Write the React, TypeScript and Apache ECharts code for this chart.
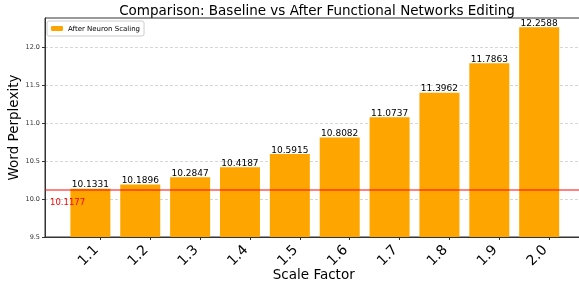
import React, { useEffect, useRef } from "react";
import * as echarts from "echarts";

const categories = ["1.1", "1.2", "1.3", "1.4", "1.5", "1.6", "1.7", "1.8", "1.9", "2.0"];
const perplexity = [10.1331, 10.1896, 10.2847, 10.4187, 10.5915, 10.8082, 11.0737, 11.3962, 11.7863, 12.2588];
const baseline = 10.1177;
const yTicks = [9.5, 10.0, 10.5, 11.0, 11.5, 12.0];
const barOffset = -0.2;

export default function App() {
  const ref = useRef<HTMLDivElement>(null);
  useEffect(() => {
    if (!ref.current) return;
    const chart = echarts.init(ref.current, null, { renderer: "svg" });
    const font = "DejaVu Sans";
    const idx = categories.map((_, i) => i);
    chart.setOption({
      animation: false,
      textStyle: { fontFamily: font },
      title: {
        text: "Comparison: Baseline vs After Functional Networks Editing",
        left: 312,
        textAlign: "center",
        top: -2,
        textStyle: { fontFamily: font, fontSize: 13.5, fontWeight: "normal", color: "#000" },
      },
      legend: {
        data: ["After Neuron Scaling"],
        left: 47,
        top: 21,
        orient: "vertical",
        itemWidth: 12,
        itemHeight: 5,
        itemGap: 4,
        padding: [4, 4, 4, 4],
        borderColor: "#ccc",
        borderWidth: 1,
        borderRadius: 2,
        backgroundColor: "rgba(255,255,255,0.8)",
        textStyle: { fontFamily: font, fontSize: 7, color: "#000" },
      },
      grid: {
        left: 45,
        right: -25.5,
        top: 18,
        bottom: 49,
        outerBoundsMode: "none",
        containLabel: false,
        show: true,
        borderColor: "#333",
        borderWidth: 1,
        backgroundColor: "transparent",
      },
      xAxis: {
        type: "value",
        min: -1.11,
        max: 10.11,
        name: "Scale Factor",
        nameLocation: "middle",
        nameGap: 30,
        nameMoveOverlap: false,
        nameTextStyle: { fontFamily: font, fontSize: 13.5, color: "#000", padding: [0, 22, 0, 0] },
        axisLine: { show: true, onZero: false, lineStyle: { color: "#333" } },
        axisTick: { show: true, customValues: idx, length: 3, lineStyle: { color: "#333" } },
        axisLabel: {
          customValues: idx,
          formatter: (v: number) => categories[Math.round(v)] ?? "",
          rotate: 45,
          fontFamily: font,
          fontSize: 14,
          color: "#000",
          margin: 5,
          padding: [0, 7, 0, 0],
        },
        splitLine: { show: false },
      },
      yAxis: {
        type: "value",
        min: 9.5,
        max: 12.38,
        interval: 0.5,
        name: "Word Perplexity",
        nameLocation: "middle",
        nameGap: 25,
        nameMoveOverlap: false,
        nameTextStyle: { fontFamily: font, fontSize: 13.5, color: "#000" },
        axisLine: { show: true, onZero: false, lineStyle: { color: "#333" } },
        axisTick: { show: true, customValues: yTicks, length: 3, lineStyle: { color: "#333" } },
        axisLabel: {
          customValues: yTicks,
          formatter: (v: number) => v.toFixed(1),
          fontFamily: font,
          fontSize: 6.5,
          color: "#333",
          margin: 5,
        },
        splitLine: { show: true, lineStyle: { color: "#ccc", type: [3, 2], width: 0.8 } },
      },
      series: [
        {
          name: "After Neuron Scaling",
          type: "bar",
          barWidth: 40,
          data: perplexity.map((v, i) => [i + barOffset, v]),
          itemStyle: { color: "#FFA500" },
          label: {
            show: true,
            position: "top",
            distance: 0,
            formatter: (p: any) => p.value[1].toFixed(4),
            fontFamily: font,
            fontSize: 9,
            color: "#000",
          },
          markLine: {
            symbol: "none",
            silent: true,
            lineStyle: { color: "rgba(255,0,0,0.65)", width: 1.6, type: "solid" },
            label: {
              show: true,
              position: "insideStartBottom",
              formatter: () => baseline.toFixed(4),
              color: "red",
              fontFamily: font,
              fontSize: 8.5,
              distance: [5, 8],
            },
            data: [{ yAxis: baseline }],
          },
        },
      ],
    });
    return () => chart.dispose();
  }, []);
  return <div ref={ref} style={{ position: "fixed", left: 0, top: 0, width: 579, height: 286 }} />;
}
